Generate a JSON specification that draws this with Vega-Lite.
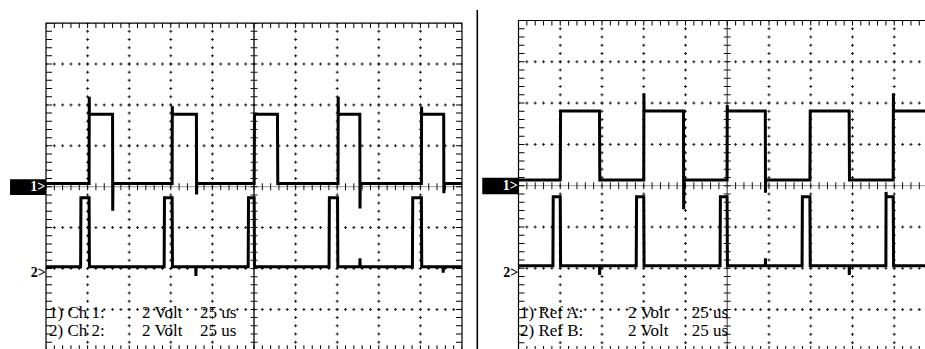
{
  "$schema": "https://vega.github.io/schema/vega-lite/v6.json",
  "padding": 0,
  "spacing": 0,
  "background": "white",
  "config": {"view": {"stroke": null}, "axis": {"disable": true}},
  "datasets": {
    "L": [
      {"ch":"1","t":0,"v":0.08},{"ch":"1","t":25.9,"v":0.08},{"ch":"1","t":26.0,"v":2.2},{"ch":"1","t":26.1,"v":1.77},
      {"ch":"1","t":40.0,"v":1.77},{"ch":"1","t":40.1,"v":-0.59},{"ch":"1","t":40.25,"v":0.08},
      {"ch":"1","t":75.8,"v":0.08},{"ch":"1","t":75.9,"v":1.97},{"ch":"1","t":76.0,"v":1.77},
      {"ch":"1","t":90.4,"v":1.77},{"ch":"1","t":90.5,"v":-0.19},{"ch":"1","t":90.65,"v":0.08},
      {"ch":"1","t":125.1,"v":0.08},{"ch":"1","t":125.3,"v":1.77},
      {"ch":"1","t":139.1,"v":1.77},{"ch":"1","t":139.3,"v":0.08},
      {"ch":"1","t":175.5,"v":0.08},{"ch":"1","t":175.6,"v":2.2},{"ch":"1","t":175.7,"v":1.77},
      {"ch":"1","t":188.6,"v":1.77},{"ch":"1","t":188.7,"v":-0.53},{"ch":"1","t":188.85,"v":0.08},
      {"ch":"1","t":225.6,"v":0.08},{"ch":"1","t":225.7,"v":1.96},{"ch":"1","t":225.8,"v":1.77},
      {"ch":"1","t":239.0,"v":1.77},{"ch":"1","t":239.1,"v":-0.16},{"ch":"1","t":239.25,"v":0.08},
      {"ch":"1","t":250,"v":0.08},
      {"ch":"2","t":0,"v":-1.96},{"ch":"2","t":20.8,"v":-1.96},{"ch":"2","t":21.0,"v":-0.27},{"ch":"2","t":25.9,"v":-0.27},{"ch":"2","t":26.1,"v":-1.96},
      {"ch":"2","t":71.0,"v":-1.96},{"ch":"2","t":71.2,"v":-0.27},{"ch":"2","t":75.8,"v":-0.27},{"ch":"2","t":76.0,"v":-1.96},
      {"ch":"2","t":90.0,"v":-1.96},{"ch":"2","t":90.1,"v":-2.18},{"ch":"2","t":90.2,"v":-1.96},
      {"ch":"2","t":121.5,"v":-1.96},{"ch":"2","t":121.7,"v":-0.27},{"ch":"2","t":125.1,"v":-0.27},{"ch":"2","t":125.3,"v":-1.96},
      {"ch":"2","t":170.1,"v":-1.96},{"ch":"2","t":170.3,"v":-0.27},{"ch":"2","t":175.2,"v":-0.27},{"ch":"2","t":175.4,"v":-1.96},
      {"ch":"2","t":188.6,"v":-1.96},{"ch":"2","t":188.7,"v":-1.75},{"ch":"2","t":188.8,"v":-1.96},
      {"ch":"2","t":220.2,"v":-1.96},{"ch":"2","t":220.4,"v":-0.27},{"ch":"2","t":225.6,"v":-0.27},{"ch":"2","t":225.8,"v":-1.96},
      {"ch":"2","t":238.6,"v":-1.96},{"ch":"2","t":238.7,"v":-2.1},{"ch":"2","t":238.8,"v":-1.96},
      {"ch":"2","t":250,"v":-1.96}
    ],
    "R": [
      {"ch":"1","t":0,"v":0.14},{"ch":"1","t":25.0,"v":0.14},{"ch":"1","t":25.2,"v":1.81},
      {"ch":"1","t":48.5,"v":1.81},{"ch":"1","t":48.7,"v":0.14},
      {"ch":"1","t":75.0,"v":0.14},{"ch":"1","t":75.1,"v":2.24},{"ch":"1","t":75.2,"v":1.81},
      {"ch":"1","t":98.8,"v":1.81},{"ch":"1","t":98.9,"v":-0.57},{"ch":"1","t":99.05,"v":0.14},
      {"ch":"1","t":124.9,"v":0.14},{"ch":"1","t":125.0,"v":1.95},{"ch":"1","t":125.1,"v":1.81},
      {"ch":"1","t":147.8,"v":1.81},{"ch":"1","t":147.9,"v":-0.17},{"ch":"1","t":148.05,"v":0.14},
      {"ch":"1","t":174.5,"v":0.14},{"ch":"1","t":174.7,"v":1.81},
      {"ch":"1","t":198.0,"v":1.81},{"ch":"1","t":198.2,"v":0.14},
      {"ch":"1","t":224.4,"v":0.14},{"ch":"1","t":224.5,"v":2.24},{"ch":"1","t":224.6,"v":1.81},
      {"ch":"1","t":250,"v":1.81},
      {"ch":"2","t":0,"v":-1.94},{"ch":"2","t":20.6,"v":-1.94},{"ch":"2","t":20.8,"v":-0.27},{"ch":"2","t":25.0,"v":-0.27},{"ch":"2","t":25.2,"v":-1.94},
      {"ch":"2","t":48.5,"v":-1.94},{"ch":"2","t":48.6,"v":-2.16},{"ch":"2","t":48.7,"v":-1.94},
      {"ch":"2","t":70.5,"v":-1.94},{"ch":"2","t":70.7,"v":-0.27},{"ch":"2","t":75.0,"v":-0.27},{"ch":"2","t":75.2,"v":-1.94},
      {"ch":"2","t":120.7,"v":-1.94},{"ch":"2","t":120.9,"v":-0.27},{"ch":"2","t":124.9,"v":-0.27},{"ch":"2","t":125.1,"v":-1.94},
      {"ch":"2","t":147.8,"v":-1.94},{"ch":"2","t":147.9,"v":-1.76},{"ch":"2","t":148.0,"v":-1.94},
      {"ch":"2","t":169.8,"v":-1.94},{"ch":"2","t":170.0,"v":-0.27},{"ch":"2","t":174.5,"v":-0.27},{"ch":"2","t":174.7,"v":-1.94},
      {"ch":"2","t":198.0,"v":-1.94},{"ch":"2","t":198.1,"v":-2.16},{"ch":"2","t":198.2,"v":-1.94},
      {"ch":"2","t":220.0,"v":-1.94},{"ch":"2","t":220.1,"v":-0.15},{"ch":"2","t":220.2,"v":-0.27},{"ch":"2","t":224.4,"v":-0.27},{"ch":"2","t":224.6,"v":-1.94},
      {"ch":"2","t":250,"v":-1.94}
    ],
    "vgrid": [{"t":25},{"t":50},{"t":75},{"t":100},{"t":150},{"t":175},{"t":200},{"t":225}],
    "hgrid": [{"v":-3},{"v":-2},{"v":-1},{"v":1},{"v":2},{"v":3}],
    "textL": [
      {"t":1.8,"v":-3.08,"label":"1) Ch 1:"},{"t":57.7,"v":-3.08,"label":"2 Volt"},{"t":92.5,"v":-3.08,"label":"25 us"},
      {"t":1.8,"v":-3.53,"label":"2) Ch 2:"},{"t":57.7,"v":-3.53,"label":"2 Volt"},{"t":92.5,"v":-3.53,"label":"25 us"}
    ],
    "textR": [
      {"t":0.9,"v":-3.08,"label":"1) Ref A:"},{"t":65.6,"v":-3.08,"label":"2 Volt"},{"t":103.7,"v":-3.08,"label":"25 us"},
      {"t":0.9,"v":-3.52,"label":"2) Ref B:"},{"t":65.6,"v":-3.52,"label":"2 Volt"},{"t":103.7,"v":-3.52,"label":"25 us"}
    ]
  },
  "hconcat": [
    {
      "width": 470,
      "height": 349,
      "layer": [
        {"data":{"name":"vgrid"},"mark":{"type":"rule","clip":true,"color":"#222","strokeWidth":1,"strokeDash":[3,5.18],"strokeDashOffset":1.5},
         "encoding":{"x":{"field":"t","type":"quantitative","scale":{"domain":[-27.64,254.81],"nice":false,"zero":false},"axis":null},"y":{"datum":4,"scale":{"domain":[-3.968,4.565],"nice":false,"zero":false},"axis":null},"y2":{"datum":-4}}},
        {"data":{"name":"vgrid"},"mark":{"type":"rule","clip":true,"color":"#222","strokeWidth":3,"strokeDash":[1,7.18],"strokeDashOffset":0.5},
         "encoding":{"x":{"field":"t","type":"quantitative","scale":{"domain":[-27.64,254.81],"nice":false,"zero":false},"axis":null},"y":{"datum":4,"scale":{"domain":[-3.968,4.565],"nice":false,"zero":false},"axis":null},"y2":{"datum":-4}}},
        {"data":{"name":"hgrid"},"mark":{"type":"rule","clip":true,"color":"#222","strokeWidth":1,"strokeDash":[3,5.32],"strokeDashOffset":1.5},
         "encoding":{"x":{"datum":0,"scale":{"domain":[-27.64,254.81],"nice":false,"zero":false},"axis":null},"x2":{"datum":250},"y":{"field":"v","type":"quantitative","scale":{"domain":[-3.968,4.565],"nice":false,"zero":false},"axis":null}}},
        {"data":{"name":"hgrid"},"mark":{"type":"rule","clip":true,"color":"#222","strokeWidth":3,"strokeDash":[1,7.32],"strokeDashOffset":0.5},
         "encoding":{"x":{"datum":0,"scale":{"domain":[-27.64,254.81],"nice":false,"zero":false},"axis":null},"x2":{"datum":250},"y":{"field":"v","type":"quantitative","scale":{"domain":[-3.968,4.565],"nice":false,"zero":false},"axis":null}}},
        {"data":{"values":[{"v":0}]},"mark":{"type":"rule","clip":true,"color":"#999","strokeWidth":1},
         "encoding":{"x":{"datum":0,"scale":{"domain":[-27.64,254.81],"nice":false,"zero":false},"axis":null},"x2":{"datum":250},"y":{"field":"v","type":"quantitative","scale":{"domain":[-3.968,4.565],"nice":false,"zero":false},"axis":null}}},
        {"data":{"values":[{"v":0}]},"mark":{"type":"rule","clip":true,"color":"#111","strokeWidth":7,"strokeDash":[1,7.32],"strokeDashOffset":0.5},
         "encoding":{"x":{"datum":0,"scale":{"domain":[-27.64,254.81],"nice":false,"zero":false},"axis":null},"x2":{"datum":250},"y":{"field":"v","type":"quantitative","scale":{"domain":[-3.968,4.565],"nice":false,"zero":false},"axis":null}}},
        {"data":{"values":[{"t":125}]},"mark":{"type":"rule","clip":true,"color":"black","strokeWidth":1.3},
         "encoding":{"x":{"field":"t","type":"quantitative","scale":{"domain":[-27.64,254.81],"nice":false,"zero":false},"axis":null},"y":{"datum":4,"scale":{"domain":[-3.968,4.565],"nice":false,"zero":false},"axis":null},"y2":{"datum":-4}}},
        {"data":{"values":[{"t":125}]},"mark":{"type":"rule","clip":true,"color":"#111","strokeWidth":7,"strokeDash":[1,7.18],"strokeDashOffset":0.5},
         "encoding":{"x":{"field":"t","type":"quantitative","scale":{"domain":[-27.64,254.81],"nice":false,"zero":false},"axis":null},"y":{"datum":4,"scale":{"domain":[-3.968,4.565],"nice":false,"zero":false},"axis":null},"y2":{"datum":-4}}},
        {"data":{"values":[{"v":4}]},"mark":{"type":"rule","clip":true,"color":"black","strokeWidth":5,"yOffset":2.5,"strokeDash":[1,7.32],"strokeDashOffset":0.5},
         "encoding":{"x":{"datum":0,"scale":{"domain":[-27.64,254.81],"nice":false,"zero":false},"axis":null},"x2":{"datum":250},"y":{"field":"v","type":"quantitative","scale":{"domain":[-3.968,4.565],"nice":false,"zero":false},"axis":null}}},
        {"data":{"values":[{"v":-4}]},"mark":{"type":"rule","clip":true,"color":"black","strokeWidth":5,"yOffset":-2.5,"strokeDash":[1,7.32],"strokeDashOffset":0.5},
         "encoding":{"x":{"datum":0,"scale":{"domain":[-27.64,254.81],"nice":false,"zero":false},"axis":null},"x2":{"datum":250},"y":{"field":"v","type":"quantitative","scale":{"domain":[-3.968,4.565],"nice":false,"zero":false},"axis":null}}},
        {"data":{"values":[{"t":0}]},"mark":{"type":"rule","clip":true,"color":"black","strokeWidth":6,"xOffset":3,"strokeDash":[1,7.18],"strokeDashOffset":0.5},
         "encoding":{"x":{"field":"t","type":"quantitative","scale":{"domain":[-27.64,254.81],"nice":false,"zero":false},"axis":null},"y":{"datum":4,"scale":{"domain":[-3.968,4.565],"nice":false,"zero":false},"axis":null},"y2":{"datum":-4}}},
        {"data":{"values":[{"t":250}]},"mark":{"type":"rule","clip":true,"color":"black","strokeWidth":6,"xOffset":-3,"strokeDash":[1,7.18],"strokeDashOffset":0.5},
         "encoding":{"x":{"field":"t","type":"quantitative","scale":{"domain":[-27.64,254.81],"nice":false,"zero":false},"axis":null},"y":{"datum":4,"scale":{"domain":[-3.968,4.565],"nice":false,"zero":false},"axis":null},"y2":{"datum":-4}}},
        {"data":{"values":[{}]},"mark":{"type":"rect","clip":true,"filled":false,"color":"black","strokeWidth":1.2},
         "encoding":{"x":{"datum":0,"scale":{"domain":[-27.64,254.81],"nice":false,"zero":false},"axis":null},"x2":{"datum":250},"y":{"datum":4,"scale":{"domain":[-3.968,4.565],"nice":false,"zero":false},"axis":null},"y2":{"datum":-4}}},
        {"data":{"name":"L"},"mark":{"type":"line","clip":true,"color":"black","strokeWidth":3},
         "encoding":{"x":{"field":"t","type":"quantitative","scale":{"domain":[-27.64,254.81],"nice":false,"zero":false},"axis":null},"y":{"field":"v","type":"quantitative","scale":{"domain":[-3.968,4.565],"nice":false,"zero":false},"axis":null},"detail":{"field":"ch"}}},
        {"data":{"values":[{}]},"mark":{"type":"rect","clip":true,"color":"black"},
         "encoding":{"x":{"datum":-21.6,"scale":{"domain":[-27.64,254.81],"nice":false,"zero":false},"axis":null},"x2":{"datum":0},"y":{"datum":0.18,"scale":{"domain":[-3.968,4.565],"nice":false,"zero":false},"axis":null},"y2":{"datum":-0.2}}},
        {"data":{"values":[{"label":"1>"}]},"mark":{"type":"text","clip":true,"color":"white","font":"Liberation Serif","fontSize":14,"fontWeight":"bold","align":"right","baseline":"middle"},
         "encoding":{"x":{"datum":-0.4,"scale":{"domain":[-27.64,254.81],"nice":false,"zero":false},"axis":null},"y":{"datum":-0.01,"scale":{"domain":[-3.968,4.565],"nice":false,"zero":false},"axis":null},"text":{"field":"label"}}},
        {"data":{"values":[{"label":"2>"}]},"mark":{"type":"text","clip":true,"color":"black","font":"Liberation Serif","fontSize":14,"fontWeight":"bold","align":"right","baseline":"middle"},
         "encoding":{"x":{"datum":-0.2,"scale":{"domain":[-27.64,254.81],"nice":false,"zero":false},"axis":null},"y":{"datum":-2.11,"scale":{"domain":[-3.968,4.565],"nice":false,"zero":false},"axis":null},"text":{"field":"label"}}},
        {"data":{"name":"textL"},"mark":{"type":"text","clip":true,"color":"black","font":"Liberation Serif","fontSize":17,"align":"left","baseline":"middle"},
         "encoding":{"x":{"field":"t","type":"quantitative","scale":{"domain":[-27.64,254.81],"nice":false,"zero":false},"axis":null},"y":{"field":"v","type":"quantitative","scale":{"domain":[-3.968,4.565],"nice":false,"zero":false},"axis":null},"text":{"field":"label"}}}
      ]
    },
    {
      "width": 455,
      "height": 349,
      "layer": [
        {"data":{"name":"vgrid"},"mark":{"type":"rule","clip":true,"color":"#222","strokeWidth":1,"strokeDash":[3,5.26],"strokeDashOffset":1.5},
         "encoding":{"x":{"field":"t","type":"quantitative","scale":{"domain":[-29.04,243.42],"nice":false,"zero":false},"axis":null},"y":{"datum":4,"scale":{"domain":[-3.954,4.496],"nice":false,"zero":false},"axis":null},"y2":{"datum":-4}}},
        {"data":{"name":"vgrid"},"mark":{"type":"rule","clip":true,"color":"#222","strokeWidth":3,"strokeDash":[1,7.26],"strokeDashOffset":0.5},
         "encoding":{"x":{"field":"t","type":"quantitative","scale":{"domain":[-29.04,243.42],"nice":false,"zero":false},"axis":null},"y":{"datum":4,"scale":{"domain":[-3.954,4.496],"nice":false,"zero":false},"axis":null},"y2":{"datum":-4}}},
        {"data":{"name":"hgrid"},"mark":{"type":"rule","clip":true,"color":"#222","strokeWidth":1,"strokeDash":[3,5.35],"strokeDashOffset":1.5},
         "encoding":{"x":{"datum":0,"scale":{"domain":[-29.04,243.42],"nice":false,"zero":false},"axis":null},"x2":{"datum":250},"y":{"field":"v","type":"quantitative","scale":{"domain":[-3.954,4.496],"nice":false,"zero":false},"axis":null}}},
        {"data":{"name":"hgrid"},"mark":{"type":"rule","clip":true,"color":"#222","strokeWidth":3,"strokeDash":[1,7.35],"strokeDashOffset":0.5},
         "encoding":{"x":{"datum":0,"scale":{"domain":[-29.04,243.42],"nice":false,"zero":false},"axis":null},"x2":{"datum":250},"y":{"field":"v","type":"quantitative","scale":{"domain":[-3.954,4.496],"nice":false,"zero":false},"axis":null}}},
        {"data":{"values":[{"v":0}]},"mark":{"type":"rule","clip":true,"color":"#999","strokeWidth":1},
         "encoding":{"x":{"datum":0,"scale":{"domain":[-29.04,243.42],"nice":false,"zero":false},"axis":null},"x2":{"datum":250},"y":{"field":"v","type":"quantitative","scale":{"domain":[-3.954,4.496],"nice":false,"zero":false},"axis":null}}},
        {"data":{"values":[{"v":0}]},"mark":{"type":"rule","clip":true,"color":"#111","strokeWidth":7,"strokeDash":[1,7.35],"strokeDashOffset":0.5},
         "encoding":{"x":{"datum":0,"scale":{"domain":[-29.04,243.42],"nice":false,"zero":false},"axis":null},"x2":{"datum":250},"y":{"field":"v","type":"quantitative","scale":{"domain":[-3.954,4.496],"nice":false,"zero":false},"axis":null}}},
        {"data":{"values":[{"t":125}]},"mark":{"type":"rule","clip":true,"color":"#666","strokeWidth":1.3},
         "encoding":{"x":{"field":"t","type":"quantitative","scale":{"domain":[-29.04,243.42],"nice":false,"zero":false},"axis":null},"y":{"datum":4,"scale":{"domain":[-3.954,4.496],"nice":false,"zero":false},"axis":null},"y2":{"datum":-4}}},
        {"data":{"values":[{"t":125}]},"mark":{"type":"rule","clip":true,"color":"#111","strokeWidth":7,"strokeDash":[1,7.26],"strokeDashOffset":0.5},
         "encoding":{"x":{"field":"t","type":"quantitative","scale":{"domain":[-29.04,243.42],"nice":false,"zero":false},"axis":null},"y":{"datum":4,"scale":{"domain":[-3.954,4.496],"nice":false,"zero":false},"axis":null},"y2":{"datum":-4}}},
        {"data":{"values":[{"v":4}]},"mark":{"type":"rule","clip":true,"color":"black","strokeWidth":5,"yOffset":2.5,"strokeDash":[1,7.35],"strokeDashOffset":0.5},
         "encoding":{"x":{"datum":0,"scale":{"domain":[-29.04,243.42],"nice":false,"zero":false},"axis":null},"x2":{"datum":250},"y":{"field":"v","type":"quantitative","scale":{"domain":[-3.954,4.496],"nice":false,"zero":false},"axis":null}}},
        {"data":{"values":[{"v":-4}]},"mark":{"type":"rule","clip":true,"color":"black","strokeWidth":5,"yOffset":-2.5,"strokeDash":[1,7.35],"strokeDashOffset":0.5},
         "encoding":{"x":{"datum":0,"scale":{"domain":[-29.04,243.42],"nice":false,"zero":false},"axis":null},"x2":{"datum":250},"y":{"field":"v","type":"quantitative","scale":{"domain":[-3.954,4.496],"nice":false,"zero":false},"axis":null}}},
        {"data":{"values":[{"t":0}]},"mark":{"type":"rule","clip":true,"color":"black","strokeWidth":6,"xOffset":3,"strokeDash":[1,7.26],"strokeDashOffset":0.5},
         "encoding":{"x":{"field":"t","type":"quantitative","scale":{"domain":[-29.04,243.42],"nice":false,"zero":false},"axis":null},"y":{"datum":4,"scale":{"domain":[-3.954,4.496],"nice":false,"zero":false},"axis":null},"y2":{"datum":-4}}},
        {"data":{"values":[{}]},"mark":{"type":"rect","clip":true,"filled":false,"color":"black","strokeWidth":1.2},
         "encoding":{"x":{"datum":0,"scale":{"domain":[-29.04,243.42],"nice":false,"zero":false},"axis":null},"x2":{"datum":250},"y":{"datum":4,"scale":{"domain":[-3.954,4.496],"nice":false,"zero":false},"axis":null},"y2":{"datum":-4}}},
        {"data":{"values":[{"t":-24.67}]},"mark":{"type":"rule","clip":true,"color":"black","strokeWidth":1.6},
         "encoding":{"x":{"field":"t","type":"quantitative","scale":{"domain":[-29.04,243.42],"nice":false,"zero":false},"axis":null},"y":{"datum":4.254,"scale":{"domain":[-3.954,4.496],"nice":false,"zero":false},"axis":null},"y2":{"datum":-3.954}}},
        {"data":{"name":"R"},"mark":{"type":"line","clip":true,"color":"black","strokeWidth":3},
         "encoding":{"x":{"field":"t","type":"quantitative","scale":{"domain":[-29.04,243.42],"nice":false,"zero":false},"axis":null},"y":{"field":"v","type":"quantitative","scale":{"domain":[-3.954,4.496],"nice":false,"zero":false},"axis":null},"detail":{"field":"ch"}}},
        {"data":{"values":[{}]},"mark":{"type":"rect","clip":true,"color":"black"},
         "encoding":{"x":{"datum":-21.7,"scale":{"domain":[-29.04,243.42],"nice":false,"zero":false},"axis":null},"x2":{"datum":0},"y":{"datum":0.19,"scale":{"domain":[-3.954,4.496],"nice":false,"zero":false},"axis":null},"y2":{"datum":-0.21}}},
        {"data":{"values":[{"label":"1>"}]},"mark":{"type":"text","clip":true,"color":"white","font":"Liberation Serif","fontSize":14,"fontWeight":"bold","align":"right","baseline":"middle"},
         "encoding":{"x":{"datum":-0.4,"scale":{"domain":[-29.04,243.42],"nice":false,"zero":false},"axis":null},"y":{"datum":-0.01,"scale":{"domain":[-3.954,4.496],"nice":false,"zero":false},"axis":null},"text":{"field":"label"}}},
        {"data":{"values":[{"label":"2>"}]},"mark":{"type":"text","clip":true,"color":"black","font":"Liberation Serif","fontSize":14,"fontWeight":"bold","align":"right","baseline":"middle"},
         "encoding":{"x":{"datum":-0.2,"scale":{"domain":[-29.04,243.42],"nice":false,"zero":false},"axis":null},"y":{"datum":-2.12,"scale":{"domain":[-3.954,4.496],"nice":false,"zero":false},"axis":null},"text":{"field":"label"}}},
        {"data":{"name":"textR"},"mark":{"type":"text","clip":true,"color":"black","font":"Liberation Serif","fontSize":17,"align":"left","baseline":"middle"},
         "encoding":{"x":{"field":"t","type":"quantitative","scale":{"domain":[-29.04,243.42],"nice":false,"zero":false},"axis":null},"y":{"field":"v","type":"quantitative","scale":{"domain":[-3.954,4.496],"nice":false,"zero":false},"axis":null},"text":{"field":"label"}}}
      ]
    }
  ]
}
